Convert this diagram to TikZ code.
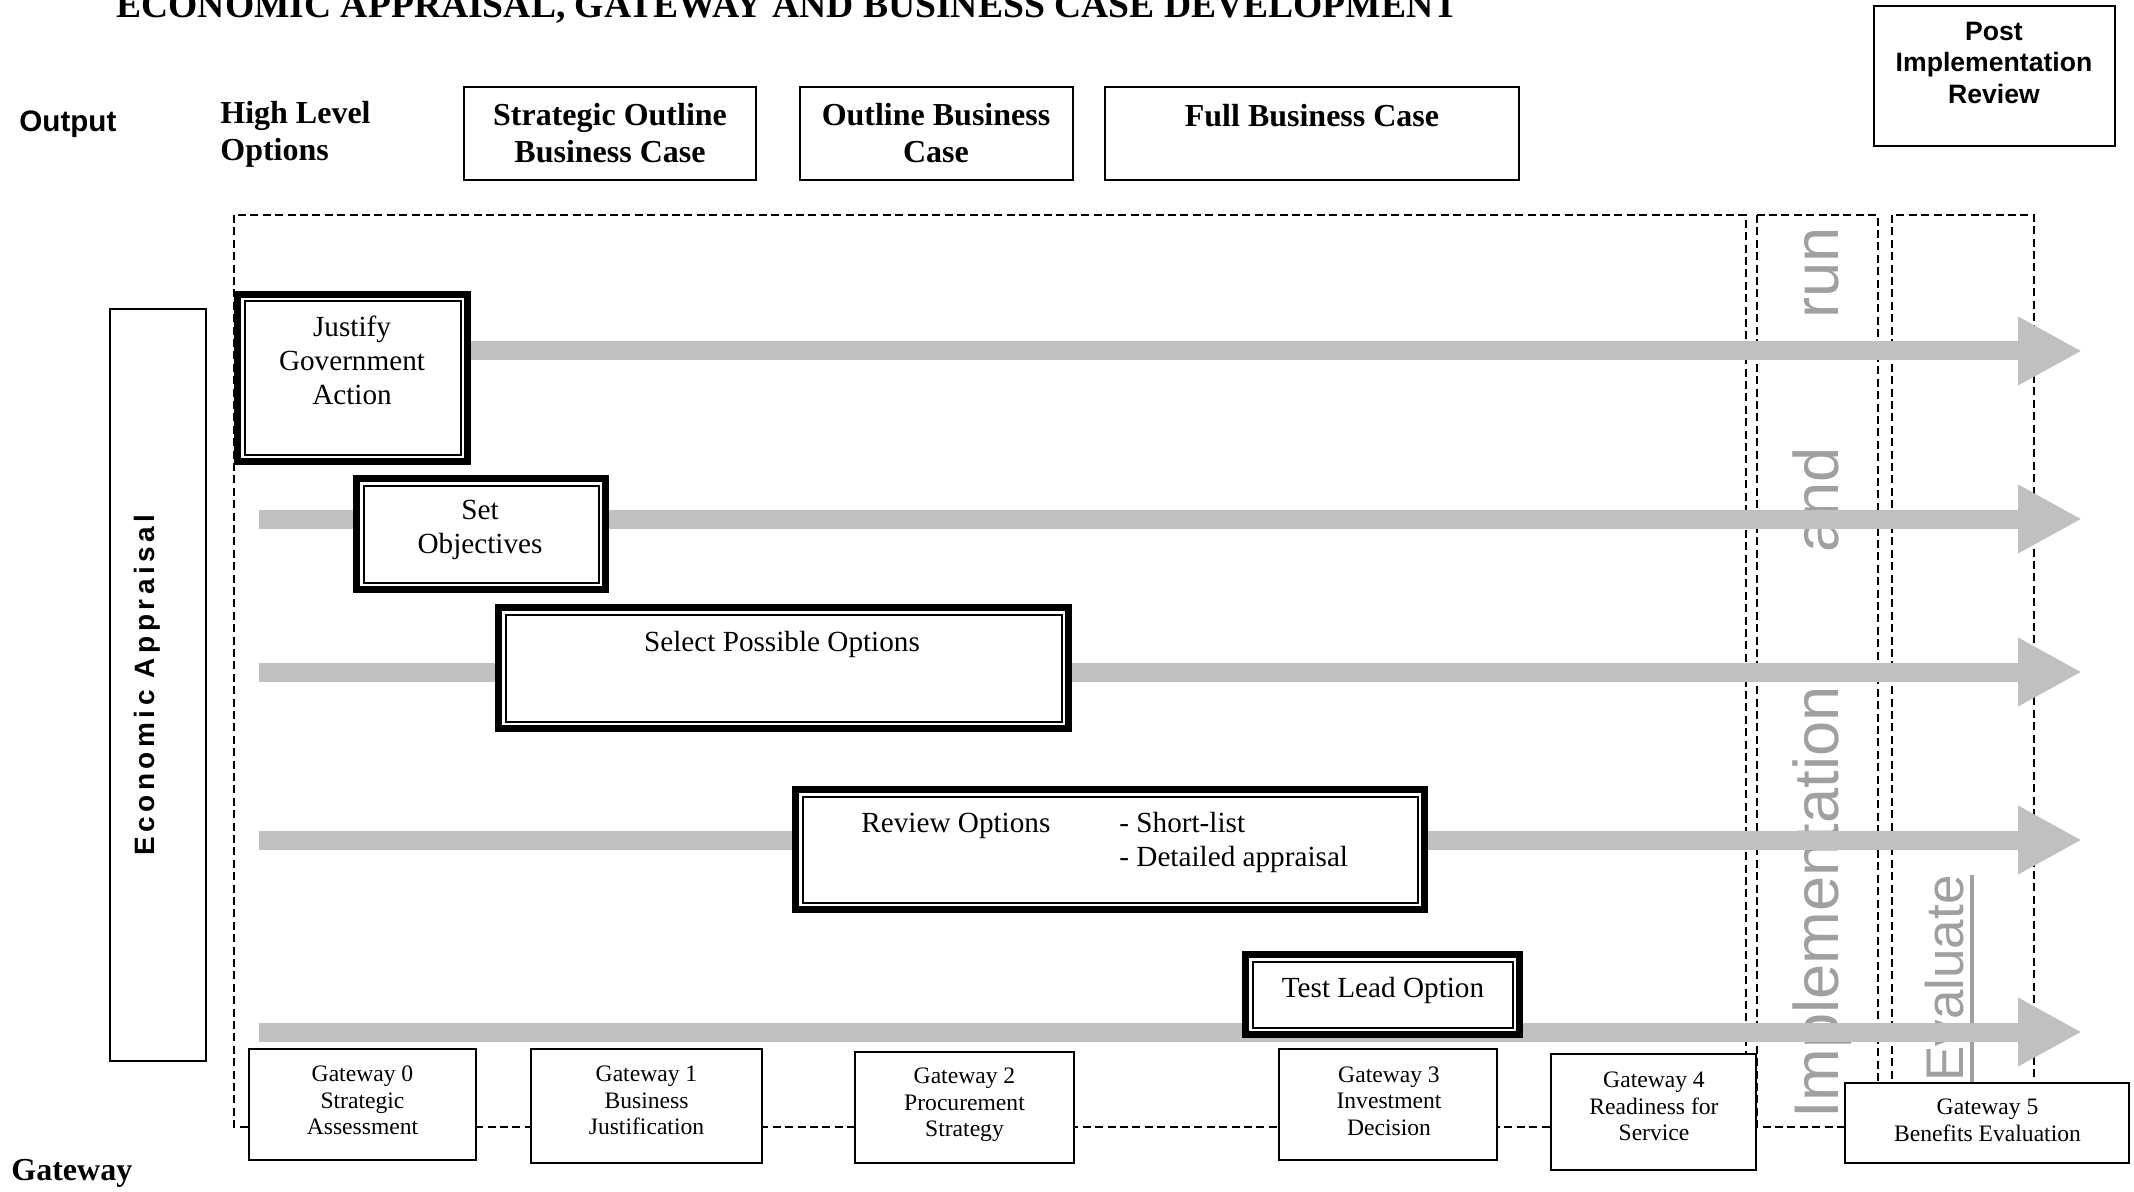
\documentclass[tikz,border=0pt]{standalone}
\usepackage{fontspec}
\setmainfont{Liberation Serif}
\newfontfamily\arial{Liberation Sans}
\newfontfamily\arialsp[LetterSpace=16]{Liberation Sans}
\usetikzlibrary{arrows.meta,calc}
\definecolor{arrowgray}{RGB}{192,192,192}
\definecolor{txtgray}{RGB}{160,160,160}
\newcommand\fs[2]{\fontsize{#1}{#2}\selectfont}
\newcommand\mkbox[7]{\node[#1, minimum width={(#5-#3)*0.5pt-#7}, minimum height={(#6-#4)*0.5pt-#7}] (#2) at ({(#3+#5)/2},{(#4+#6)/2}) {};}
\newcommand\innerline[1]{\draw[line width=1pt] ($(#1.north west)+(7,7)$) rectangle ($(#1.south east)+(-7,-7)$);}
\tikzset{
 thinbox/.style={draw, line width=1pt, fill=white, inner sep=0pt, outer sep=0pt},
 thickbox/.style={draw, line width=3.5pt, fill=white, inner sep=0pt, outer sep=0pt},
 frame/.style={line width=0.9pt, dash pattern=on 4pt off 2.2pt},
 bigarrow/.style={draw=arrowgray, line width=9.5pt, -{Triangle[length=32pt,width=32pt]}},
 rot/.style={rotate=90, anchor=base west, inner sep=0pt, text=txtgray},
 lbl/.style={inner sep=0pt, align=center},
 gw/.style={lbl, font=\fs{11.8}{13.25}},
 act/.style={lbl, font=\fs{14.6}{17}},
 outp/.style={lbl, font=\bfseries\fs{16}{18.5}},
}
\begin{document}
\begin{tikzpicture}[x=0.5pt,y=-0.5pt]
\useasboundingbox (0,0) rectangle (2134,1192);
% dashed frames
\draw[frame] (234,215) rectangle (1746,1127);
\draw[frame] (1757,215) rectangle (1878,1127);
\draw[frame] (1892,215) rectangle (2034,1127);
% gray vertical texts
\node[rot, font=\arial\fs{31.6}{36}] (impl) at (1838,1119) {Implementation};
\node[rot, font=\arial\fs{31.6}{36}] (and) at (1838,553) {and};
\node[rot, font=\arial\fs{31.6}{36}] (run) at (1838,319) {run};
\node[rot, font=\arial\fs{26.5}{30}] (ev) at (1963,1082) {Evaluate};
\draw[txtgray, line width=2pt] ($(ev.base west)+(9,0)$) -- ($(ev.base east)+(9,0)$);
% arrows
\foreach \n/\y/\xs in {1/351/300, 2/519/259, 3/672/259, 4/840/259, 5/1032/259} {
  \coordinate (a\n s) at (\xs,\y);
  \coordinate (a\n e) at (2082,\y);
  \draw[bigarrow] (a\n s) -- (a\n e);
}
% activity boxes
\mkbox{thickbox}{just}{234}{291}{471}{465}{3.5pt} \innerline{just}
\mkbox{thickbox}{setobj}{353}{475}{609}{593}{3.5pt} \innerline{setobj}
\mkbox{thickbox}{select}{495}{604}{1072}{732}{3.5pt} \innerline{select}
\mkbox{thickbox}{review}{792}{786}{1428}{913}{3.5pt} \innerline{review}
\mkbox{thickbox}{test}{1242}{951}{1523}{1038}{3.5pt} \innerline{test}
% output boxes
\mkbox{thinbox}{sobc}{463}{86}{757}{181}{1pt}
\mkbox{thinbox}{obc}{799}{86}{1074}{181}{1pt}
\mkbox{thinbox}{fbc}{1104}{86}{1520}{181}{1pt}
\mkbox{thinbox}{pir}{1873}{5}{2116}{147}{1pt}
\mkbox{thinbox}{ea}{109}{308}{207}{1062}{1pt}
% gateway boxes
\mkbox{thinbox}{g0}{248}{1048}{477}{1161}{1pt}
\mkbox{thinbox}{g1}{530}{1048}{763}{1164}{1pt}
\mkbox{thinbox}{g2}{854}{1051}{1075}{1164}{1pt}
\mkbox{thinbox}{g3}{1278}{1048}{1498}{1161}{1pt}
\mkbox{thinbox}{g4}{1550}{1053}{1757}{1171}{1pt}
\mkbox{thinbox}{g5}{1844}{1082}{2130}{1164}{1pt}
% texts
\node[inner sep=0pt, anchor=base west, font=\bfseries\fs{18.8}{22}] (title) at (116,18) {ECONOMIC APPRAISAL, GATEWAY AND BUSINESS CASE DEVELOPMENT};
\node[inner sep=0pt, anchor=base west, font=\arial\bfseries\fs{14.8}{17}] (outlbl) at (19,132) {Output};
\node[outp, align=left, anchor=west] (hlo) at (220,134) {High Level\\Options};
\node[outp] (sobct) at (610,133.5) {Strategic Outline\\Business Case};
\node[outp] (obct) at (936,133.5) {Outline Business\\Case};
\node[outp, anchor=base] (fbct) at (1312,127) {Full Business Case};
\node[lbl, font=\arial\bfseries\fs{13.3}{15.75}] (pirt) at (1994,62.5) {Post\\Implementation\\Review};
\node[inner sep=0pt, anchor=base, rotate=90, font=\arialsp\bfseries\fs{14}{16}] (eat) at (154,685) {Economic Appraisal};
\node[act] (justt) at (352,360) {Justify\\Government\\Action};
\node[act] (setobjt) at (480,530) {Set\\Objectives};
\node[act, anchor=base] (selectt) at (782,651) {Select Possible Options};
\node[act, anchor=base west] (reviewt) at (861,832) {Review Options};
\node[act, anchor=base west] (rev1) at (1119,832) {- Short-list};
\node[act, anchor=base west] (rev2) at (1119,866) {- Detailed appraisal};
\node[act, anchor=base] (testt) at (1383,997) {Test Lead Option};
\node[gw] (g0t) at (362.5,1100.5) {Gateway 0\\Strategic\\Assessment};
\node[gw] (g1t) at (646.5,1100.5) {Gateway 1\\Business\\Justification};
\node[gw] (g2t) at (964.5,1105) {Gateway 2\\Procurement\\Strategy};
\node[gw] (g3t) at (1389,1101) {Gateway 3\\Investment\\Decision};
\node[gw] (g4t) at (1654,1106.5) {Gateway 4\\Readiness for\\Service};
\node[gw] (g5t) at (1987.5,1120.5) {Gateway 5\\Benefits Evaluation};
\node[inner sep=0pt, anchor=base west, font=\bfseries\fs{16}{18.5}] (gwlbl) at (11,1180) {Gateway};
\end{tikzpicture}
\end{document}
